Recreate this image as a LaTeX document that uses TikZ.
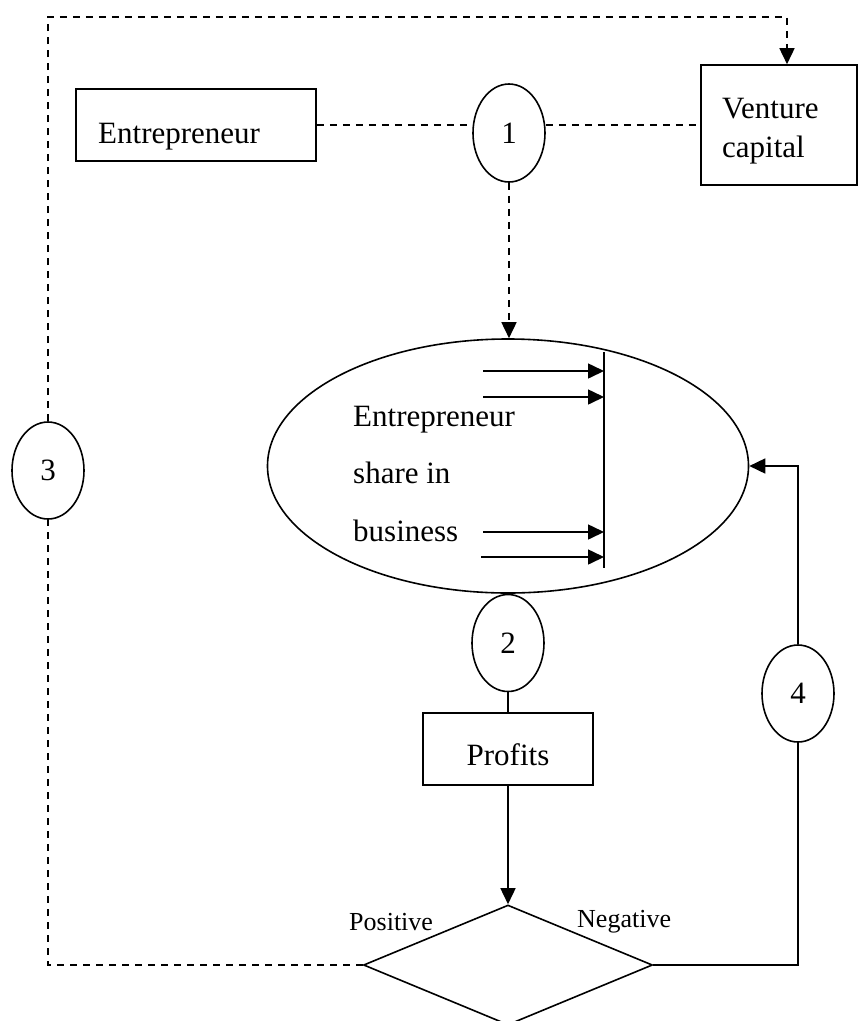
\documentclass[tikz,border=0pt]{standalone}
\usepackage{fontspec}
\setmainfont{Liberation Serif}
\usetikzlibrary{shapes.geometric,arrows.meta}
\begin{document}
\begin{tikzpicture}[x=1pt,y=-1pt,
  every node/.style={font=\fontsize{31}{37}\selectfont},
  box/.style={draw,line width=1.6pt,rectangle,inner sep=0pt},
  oval/.style={draw,line width=1.6pt,ellipse,inner sep=0pt,minimum width=72pt,minimum height=97pt},
  conn/.style={line width=1.6pt},
  dsh/.style={conn,dash pattern=on 7pt off 6pt},
  arr/.style={-{Triangle[length=16pt,width=15pt]}},
  small/.style={font=\fontsize{26}{31}\selectfont},
  lbl/.style={anchor=base west,inner sep=0pt}]
\useasboundingbox (0,0) rectangle (859,1021);

% boxes and shapes
\node[box,minimum width=240pt,minimum height=72pt] (ent) at (196,125) {};
\node[lbl] (entT) at (98,143) {Entrepreneur};
\node[box,minimum width=156pt,minimum height=120pt] (vc) at (779,125) {};
\node[lbl] (vcT1) at (722,118) {Venture};
\node[lbl] (vcT2) at (722,157) {capital};

\node[oval,minimum height=98pt] (c1) at (509,133) {\raisebox{-5pt}{1}};
\node[draw,line width=1.6pt,ellipse,inner sep=0pt,minimum width=481pt,minimum height=254pt] (big) at (508,466) {};
\node[lbl] (bT1) at (353,426) {Entrepreneur};
\node[lbl] (bT2) at (353,483) {share in};
\node[lbl] (bT3) at (353,541) {business};

\node[oval] (c2) at (508,643) {\raisebox{-5pt}{2}};
\node[box,minimum width=170pt,minimum height=72pt] (prof) at (508,749) {};
\node[anchor=base,inner sep=0pt] (profT) at (508,765) {Profits};
\node[draw,line width=1.6pt,diamond,inner sep=0pt,minimum width=289pt,minimum height=120pt] (dia) at (508,965) {};
\node[lbl,small] (pos) at (349,930) {Positive};
\node[lbl,small] (neg) at (577,927) {Negative};

\node[oval] (c3) at (48,470.5) {\raisebox{-5pt}{3}};
\node[oval] (c4) at (798,693.5) {\raisebox{-5pt}{4}};

% bar and arrows inside the big ellipse
\coordinate (barT) at (604,352);
\coordinate (barB) at (604,568);
\draw[conn] (barT) -- (barB);
\draw[conn,arr] (483,371) -- (604,371);
\draw[conn,arr] (483,397) -- (604,397);
\draw[conn,arr] (483,532) -- (604,532);
\draw[conn,arr] (481,557) -- (604,557);

% connectors
\coordinate (tr) at (787,17);
\draw[dsh,arr] (c3.north) |- (tr) -- (tr |- vc.north);
\draw[dsh] (ent.east) -- (ent.east -| c1.west);
\draw[dsh] (vc.west -| c1.east) -- (vc.west);
\draw[dsh,arr] (c1.south) -- (c1.south |- big.north);
\draw[conn] (c2.south) -- (c2.south |- prof.north);
\draw[conn,arr] (prof.south) -- (dia.north);
\draw[dsh] (dia.west) -| (c3.south);
\draw[conn] (dia.east) -| (c4.south);
\draw[conn,arr] (c4.north) |- (big.east);
\end{tikzpicture}
\end{document}
